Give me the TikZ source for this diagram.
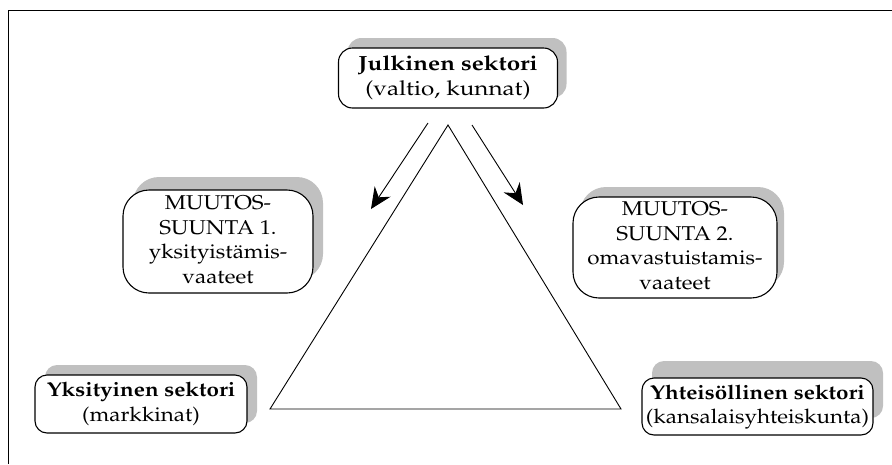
\documentclass[tikz,border=0pt]{standalone}
\usepackage[T1]{fontenc}
\usepackage{mathpazo}
\usetikzlibrary{arrows.meta,shadows}
\definecolor{shadowgray}{RGB}{192,192,192}
% centred lines of text, set slightly wide
\newcommand{\boxtext}[2][1.12]{\scalebox{#1}[1]{\begin{tabular}{@{}c@{}}#2\end{tabular}}}
\tikzset{
  sector/.style={draw=black, line width=1.1pt, fill=white, rounded corners=#1,
    align=center, inner sep=0pt,
    font=\fontsize{20}{24.5}\selectfont\renewcommand{\arraystretch}{1}},
  sector/.default=14pt,
  shade/.style 2 args={general shadow={shadow xshift=#1, shadow yshift=#2,
    fill=shadowgray, draw=none}},
  flow/.style={line width=0.9pt, -{Stealth[length=21pt,width=19pt,inset=7pt]}},
  edge/.style={line width=0.9pt}
}
\begin{document}
\begin{tikzpicture}[x=1pt,y=-1pt]
  \useasboundingbox (0,0) rectangle (892,464);
  % frame
  \draw[line width=1pt] (8,464) -- (8,10) -- (892,10);

  % triangle of sectors
  \coordinate (apex) at (448,125);
  \coordinate (bl) at (270,409);
  \coordinate (br) at (621,409);
  \draw[edge] (apex) -- (bl) -- (br) -- cycle;

  % directions of change
  \coordinate (a1s) at (428,123);
  \coordinate (a1e) at (371,209);
  \coordinate (a2s) at (472,125);
  \coordinate (a2e) at (523,205);
  \draw[flow] (a1s) -- (a1e);
  \draw[flow] (a2s) -- (a2e);

  % sector boxes
  \node[sector, shade={9pt}{10pt}, minimum width=219pt, minimum height=60pt,
    font=\fontsize{20.5}{25}\selectfont]
    (julk) at (448,78) {\boxtext[1.18]{\textbf{Julkinen sektori}\\(valtio, kunnat)}};
  \node[sector=26pt, shade={10pt}{13pt}, minimum width=190pt, minimum height=103pt]
    (ms1) at (218,241.5) {\boxtext{MUUTOS-\\SUUNTA 1.\\yksityistämis-\\vaateet}};
  \node[sector=26pt, shade={7pt}{10pt}, minimum width=204pt, minimum height=101pt]
    (ms2) at (675,247.5) {\boxtext{MUUTOS-\\SUUNTA 2.\\omavastuistamis-\\vaateet}};
  \node[sector=12pt, shade={10pt}{10pt}, minimum width=212pt, minimum height=58pt]
    (yks) at (141,404) {\boxtext{\textbf{Yksityinen sektori}\\(markkinat)}};
  \node[sector=12pt, shade={10pt}{17pt}, minimum width=231pt, minimum height=57pt]
    (yht) at (757.5,406.5) {\boxtext{\textbf{Yhteisöllinen sektori}\\(kansalaisyhteiskunta)}};
\end{tikzpicture}
\end{document}
